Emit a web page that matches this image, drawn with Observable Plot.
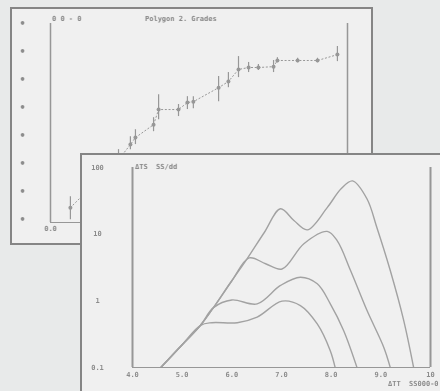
<!DOCTYPE html>
<html><head><meta charset="utf-8">
<script src="https://cdn.jsdelivr.net/npm/d3@7"></script>
<script src="https://cdn.jsdelivr.net/npm/@observablehq/plot@0.6"></script>
<style>
html,body{margin:0;padding:0;width:440px;height:391px;overflow:hidden;background:#e8eaea;}
#stage{position:relative;width:440px;height:391px;overflow:hidden;font-family:"DejaVu Sans Mono",monospace;filter:grayscale(1);}
.win{position:absolute;box-sizing:border-box;border:2px solid #858585;background:#eff0f0;}
#back{left:10px;top:7px;width:363px;height:238px;}
#front{left:80px;top:153px;width:370px;height:250px;}
.win svg{position:absolute;left:0;top:0;}
.lbl{position:absolute;font-size:7px;font-weight:bold;color:#8c8c8c;white-space:pre;line-height:8px;}
</style></head>
<body>
<div id="stage">
  <div class="win" id="back">
    <div class="lbl" style="left:40px;top:6px;">0 0 - 0</div>
    <div class="lbl" style="left:133px;top:6px;">Polygon 2. Grades</div>
  </div>
  <div class="win" id="front">
    <div class="lbl" style="left:53px;top:8px;">ΔTS  SS/dd</div>
    <div class="lbl" style="left:306px;top:225px;">ΔTT  SS000-0</div>
  </div>
</div>
<script>
// ---- back chart: measured points with error bars ----
const backX  = [0.67, 2.29, 2.69, 2.86, 3.47, 3.64, 4.31, 4.61, 4.81, 5.66, 5.99, 6.33, 6.67, 7.00, 7.51, 7.64, 8.32, 8.99, 9.66];
const backY  = [0.43, 2.14, 2.68, 2.93, 3.39, 3.93, 3.93, 4.18, 4.21, 4.71, 4.93, 5.36, 5.43, 5.43, 5.46, 5.68, 5.68, 5.68, 5.89];
const backLo = [0.00, 1.79, 2.50, 2.68, 3.14, 3.57, 3.68, 3.93, 3.96, 4.21, 4.71, 5.07, 5.25, 5.32, 5.25, 5.60, 5.60, 5.60, 5.64];
const backHi = [0.82, 2.50, 2.96, 3.21, 3.64, 4.46, 4.11, 4.39, 4.39, 5.11, 5.25, 5.82, 5.61, 5.54, 5.68, 5.78, 5.76, 5.76, 6.18];
const backYTicks = [0, 1, 2, 3, 4, 5, 6, 7];
const backXTicks = [0, 2, 4, 6, 8, 10];

// ---- front chart: four spectra (log y) ----
const curveAx = [4.57, 5.0, 5.37, 5.63, 6.0, 6.31, 6.65, 6.98, 7.25, 7.52, 7.92, 8.2, 8.43, 8.72, 8.92, 9.19, 9.46, 9.66];
const curveAy = [0.1, 0.22, 0.43, 0.79, 2.0, 4.3, 10.5, 24, 16, 11.6, 25, 48, 63, 34, 12.6, 2.85, 0.51, 0.1];
const curveBx = [4.57, 5.0, 5.37, 5.63, 6.0, 6.35, 6.68, 7.01, 7.45, 7.92, 8.12, 8.39, 8.72, 9.06, 9.19];
const curveBy = [0.1, 0.22, 0.43, 0.79, 2.0, 4.4, 3.6, 3.0, 7.2, 11, 8, 2.85, 0.72, 0.2, 0.1];
const curveCx = [4.57, 5.0, 5.37, 5.63, 6.0, 6.51, 6.98, 7.38, 7.72, 7.98, 8.25, 8.52];
const curveCy = [0.1, 0.22, 0.43, 0.79, 1.03, 0.9, 1.7, 2.26, 1.8, 0.91, 0.36, 0.1];
const curveDx = [4.57, 5.0, 5.37, 5.6, 6.11, 6.51, 7.01, 7.38, 7.72, 7.98, 8.08];
const curveDy = [0.1, 0.22, 0.43, 0.47, 0.47, 0.57, 0.99, 0.85, 0.45, 0.18, 0.1];
const frontXTicks = [4, 5, 6, 7, 8, 9, 10];
const frontXLabels = ["4.0", "5.0", "6.0", "7.0", "8.0", "9.0", "10"];
const frontYTicks = [0.1, 1, 10, 100];
const frontYLabels = ["0.1", "1", "10", "100"];

const grey = "#979797";
const textGrey = "#8c8c8c";

const backData = backX.map((x, i) => ({x, y: backY[i], lo: backLo[i], hi: backHi[i]}));

const backPlot = Plot.plot({
  width: 359, height: 234,
  marginLeft: 38, marginRight: 24, marginTop: 14, marginBottom: 21,
  style: {background: "transparent", fontFamily: "'DejaVu Sans Mono', monospace", fontSize: "7px", fontWeight: "bold", color: textGrey},
  x: {domain: [0, 10]},
  y: {domain: [-0.1, 7]},
  marks: [
    Plot.ruleX([0], {stroke: grey, strokeWidth: 1.5}),
    Plot.ruleX([10], {stroke: grey, strokeWidth: 1.5}),
    Plot.ruleY([-0.1], {stroke: grey, strokeWidth: 1}),
    Plot.axisY({ticks: backYTicks, tickSize: 0, tickPadding: 25, tickFormat: () => "•", fontSize: 10, label: null}),
    Plot.axisX({ticks: backXTicks, tickSize: 0, tickPadding: 4, tickFormat: d3.format(".1f"), label: null}),
    Plot.line(backData, {x: "x", y: "y", stroke: grey, strokeWidth: 1, strokeDasharray: "1.2,2.5"}),
    Plot.ruleX(backData, {x: "x", y1: "lo", y2: "hi", stroke: grey, strokeWidth: 1.2}),
    Plot.dot(backData, {x: "x", y: "y", r: 2, fill: grey, stroke: "none"})
  ]
});
document.getElementById("back").appendChild(backPlot);

const series = [
  ["A", curveAx, curveAy], ["B", curveBx, curveBy], ["C", curveCx, curveCy], ["D", curveDx, curveDy]
];
const frontData = series.flatMap(([name, xs, ys]) => xs.map((x, i) => ({name, x, y: ys[i]})));

const frontPlot = Plot.plot({
  width: 358, height: 236,
  marginLeft: 50, marginRight: 10, marginTop: 12, marginBottom: 24,
  style: {background: "transparent", fontFamily: "'DejaVu Sans Mono', monospace", fontSize: "7px", fontWeight: "bold", color: textGrey},
  x: {domain: [4, 10]},
  y: {type: "log", domain: [0.1, 100]},
  marks: [
    Plot.ruleX([4], {stroke: grey, strokeWidth: 2}),
    Plot.ruleX([10], {stroke: grey, strokeWidth: 2}),
    Plot.ruleY([0.1], {stroke: grey, strokeWidth: 1}),
    Plot.axisY({ticks: frontYTicks, tickSize: 0, tickPadding: 35, textAnchor: "middle", tickFormat: (d) => frontYLabels[frontYTicks.indexOf(d)], label: null}),
    Plot.axisX({ticks: frontXTicks, tickSize: 0, tickPadding: 5, tickFormat: (d) => frontXLabels[frontXTicks.indexOf(d)], label: null}),
    Plot.line(frontData, {x: "x", y: "y", z: "name", curve: "catmull-rom", stroke: "#a2a2a2", strokeWidth: 1.4, clip: true})
  ]
});
document.getElementById("front").appendChild(frontPlot);
</script>
</body></html>
